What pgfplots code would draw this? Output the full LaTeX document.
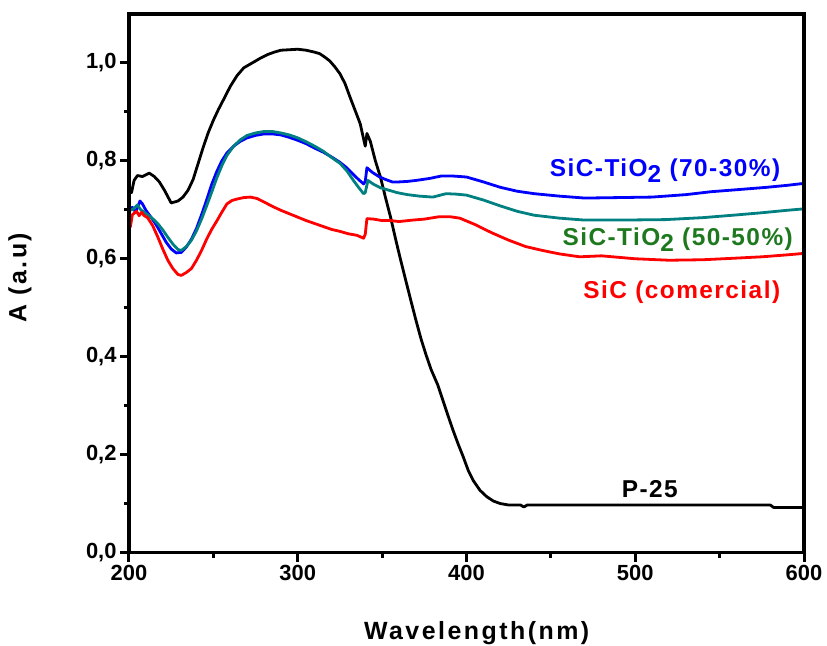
\documentclass[border=0pt]{standalone}
\usepackage{fontspec}
\setmainfont{Liberation Sans}
\usepackage{pgfplots}
\pgfplotsset{compat=1.18}
\definecolor{cblue}{RGB}{0,0,255}
\definecolor{cteal}{RGB}{0,128,128}
\definecolor{cred}{RGB}{255,0,0}
\definecolor{cgreen}{RGB}{30,120,30}
\newcommand{\lblfont}{\fontsize{24.5}{28}\selectfont\bfseries\addfontfeatures{LetterSpace=6}}
\newcommand{\axfont}{\fontsize{25}{30}\selectfont\bfseries\addfontfeatures{LetterSpace=10}}
\begin{document}
\begin{tikzpicture}
\useasboundingbox (-129bp,-93.5bp) rectangle (698bp,552.5bp);
\begin{axis}[
 at={(0,0)}, anchor=south west,
 scale only axis, width=675bp, height=538.5bp,
 xmin=200, xmax=600, ymin=0, ymax=1.1, clip=false,
 xtick={200,300,400,500,600}, xticklabels={200,300,400,500,600},
 ytick={0,0.2,0.4,0.6,0.8,1.0}, yticklabels={{0,0},{0,2},{0,4},{0,6},{0,8},{1,0}},
 minor x tick num=1, minor y tick num=1,
 tick pos=left, tick align=outside,
 major tick length=9bp, minor tick length=5bp,
 tick style={black, line width=3bp},
 axis line style={black, line width=3.5bp},
 ticklabel style={font=\fontsize{22}{26}\selectfont\bfseries},
 xlabel={Wavelength(nm)}, ylabel={A (a.u)},
 xlabel style={font=\axfont, at={(axis description cs:0.515,-0.1495)}, anchor=center},
 ylabel style={font=\axfont, at={(axis description cs:-0.1615,0.51)}, anchor=center},
 every axis plot/.append style={line width=2.8bp, line join=round},
]
% P-25
\addplot[black] coordinates {
(200,0.72) (200.5,0.745) (201.5,0.735) (203,0.76) (205,0.770) (208,0.768) (212,0.775) (215,0.768) (218,0.757) (221,0.740) (225,0.714) (229,0.718) (232,0.726) (235,0.740) (238,0.762) (241,0.795) (244,0.828) (247,0.858) (250,0.883) (253,0.905) (256,0.925) (260,0.952) (264,0.974) (268,0.990) (273,1.000) (278,1.010) (282,1.017) (286,1.022) (290,1.026) (295,1.027) (300,1.028) (305,1.026) (310,1.022) (313,1.019) (316,1.012) (319,1.004) (322,0.992) (325,0.978) (328,0.958) (331,0.930) (334,0.903) (337,0.876) (339,0.845) (340,0.830) (341,0.856) (343,0.840) (346,0.800) (349,0.767) (352,0.725) (355,0.685) (358,0.640) (361,0.597) (364,0.556) (367,0.515) (370,0.475) (373,0.437) (376,0.404) (379,0.374) (383,0.342) (386,0.311) (389,0.280) (392,0.250) (395,0.222) (398,0.196) (401,0.168) (404,0.147) (408,0.127) (412,0.114) (416,0.105) (420,0.100) (425,0.097) (432,0.097) (434,0.093) (436,0.097) (500,0.097) (580,0.097) (582,0.092) (600,0.092)
};
\addplot[cblue] coordinates {
(200,0.70) (202,0.705) (204,0.695) (206.5,0.718) (208,0.712) (210,0.699) (213,0.685) (216,0.670) (219,0.652) (222,0.634) (225,0.620) (228,0.612) (231,0.613) (234,0.624) (237,0.640) (240,0.662) (243,0.690) (246,0.720) (249,0.752) (252,0.778) (255,0.800) (258,0.816) (262,0.830) (266,0.840) (270,0.847) (275,0.852) (280,0.855) (285,0.855) (290,0.853) (295,0.848) (300,0.842) (305,0.835) (310,0.826) (315,0.818) (320,0.808) (325,0.797) (329,0.786) (333,0.772) (336,0.762) (339,0.753) (340,0.758) (341,0.786) (344,0.777) (348,0.768) (352,0.762) (356,0.757) (360,0.757) (365,0.758) (370,0.760) (378,0.764) (385,0.769) (392,0.769) (400,0.767) (410,0.757) (420,0.746) (430,0.738) (440,0.733) (455,0.728) (470,0.724) (490,0.725) (510,0.726) (530,0.731) (545,0.737) (560,0.741) (578,0.746) (590,0.750) (600,0.754)
};
\addplot[cteal] coordinates {
(200,0.70) (202,0.700) (205,0.710) (207,0.700) (211,0.690) (214,0.682) (217,0.672) (220,0.659) (223,0.644) (226,0.630) (229,0.619) (231,0.617) (234,0.625) (237,0.638) (240,0.657) (243,0.681) (246,0.708) (249,0.736) (252,0.765) (255,0.790) (258,0.811) (262,0.830) (266,0.843) (270,0.852) (275,0.857) (280,0.860) (285,0.860) (290,0.857) (295,0.853) (300,0.847) (305,0.839) (310,0.830) (315,0.820) (320,0.807) (325,0.795) (329,0.780) (333,0.760) (336,0.746) (339,0.733) (340,0.735) (341.6,0.760) (345,0.752) (349,0.745) (354,0.740) (359,0.735) (365,0.731) (372,0.728) (380,0.726) (388,0.733) (394,0.732) (400,0.730) (410,0.720) (420,0.708) (430,0.697) (440,0.689) (455,0.683) (470,0.679) (490,0.679) (518,0.680) (540,0.684) (558,0.689) (575,0.694) (590,0.699) (600,0.702)
};
\addplot[cred] coordinates {
(200,0.680) (200.8,0.665) (202,0.690) (204.5,0.697) (206,0.688) (207.5,0.695) (209,0.688) (211,0.684) (214,0.668) (217,0.645) (220,0.620) (223,0.597) (226,0.580) (229,0.568) (231,0.566) (234,0.572) (237,0.580) (240,0.597) (243,0.617) (246,0.640) (249,0.660) (252,0.677) (255,0.695) (258,0.712) (261,0.719) (264,0.722) (268,0.725) (272,0.726) (276,0.723) (280,0.716) (285,0.707) (290,0.699) (295,0.692) (300,0.685) (305,0.678) (310,0.672) (315,0.666) (320,0.660) (325,0.656) (330,0.651) (335,0.648) (339,0.642) (340,0.650) (341,0.682) (345,0.681) (350,0.678) (355,0.678) (360,0.676) (368,0.679) (375,0.681) (384,0.686) (390,0.686) (396,0.683) (405,0.670) (415,0.653) (425,0.638) (435,0.625) (445,0.617) (455,0.610) (467,0.604) (480,0.606) (500,0.600) (520,0.597) (540,0.598) (558,0.601) (575,0.604) (590,0.608) (600,0.611)
};
\draw[black, line width=3.5bp] (rel axis cs:0,0) rectangle (rel axis cs:1,1);
\node[anchor=base east, text=cblue, font=\lblfont, inner sep=0pt] at (axis cs:586,0.768) {SiC-TiO\raisebox{-6bp}{2} (70-30\%)};
\node[anchor=base east, text=cgreen, font=\lblfont, inner sep=0pt] at (axis cs:593.5,0.628) {SiC-TiO\raisebox{-6bp}{2} (50-50\%)};
\node[anchor=base east, text=cred, font=\lblfont, inner sep=0pt] at (axis cs:586,0.519) {SiC (comercial)};
\node[anchor=base east, text=black, font=\lblfont, inner sep=0pt] at (axis cs:525.3,0.113) {P-25};
\end{axis}
\end{tikzpicture}
\end{document}
